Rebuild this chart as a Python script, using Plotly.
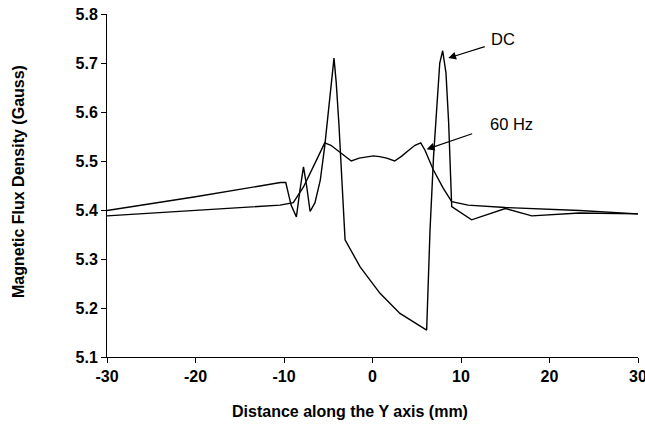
import plotly.graph_objects as go

# DC curve
dc_x = [-30, -20, -10.4, -9.8, -9.2, -8.6, -8.2, -7.8, -7.45, -7.05, -6.5, -5.9, -5.4, -4.9,
        -4.6, -4.35, -4.1, -3.8, -3.1, -1.4, 0.85, 3.1, 6.12, 6.5, 6.9, 7.3, 7.6, 7.93, 8.3,
        8.6, 8.8, 8.95, 11.2, 15, 18, 23.4, 30]
dc_y = [5.399, 5.427, 5.456, 5.456, 5.41, 5.386, 5.44, 5.488, 5.45, 5.397, 5.415, 5.461, 5.53, 5.61,
        5.67, 5.710, 5.66, 5.577, 5.339, 5.284, 5.23, 5.189, 5.155, 5.359, 5.51, 5.63, 5.70, 5.725, 5.68,
        5.58, 5.50, 5.407, 5.38, 5.403, 5.388, 5.394, 5.392]

# 60 Hz curve
hz_x = [-30, -20, -10.45, -8.95, -7.8, -6.7, -5.9, -5.4, -4.7, -4.0, -3.2, -2.4, -1.5, -0.7, 0.1,
        0.8, 1.6, 2.5, 3.3, 4.1, 4.8, 5.45, 5.93, 6.87, 8.0, 8.95, 10.8, 15, 23.4, 30]
hz_y = [5.388, 5.399, 5.41, 5.415, 5.447, 5.488, 5.52, 5.537, 5.532, 5.522, 5.51, 5.50, 5.506, 5.509, 5.5105,
        5.509, 5.506, 5.50, 5.51, 5.522, 5.532, 5.537, 5.522, 5.482, 5.444, 5.417, 5.41, 5.405, 5.399, 5.392]

x_ticks = [-30, -20, -10, 0, 10, 20, 30]
y_ticks = [5.1, 5.2, 5.3, 5.4, 5.5, 5.6, 5.7, 5.8]

FONT = "Liberation Sans, Arial, sans-serif"
W, H = 645, 424
ML, MR, MT, MB = 107, 7, 14, 67
PW, PH = W - ML - MR, H - MT - MB


def px_to_paper(px, py):
    return (px - ML) / PW, (H - MB - py) / PH


fig = go.Figure()
fig.add_trace(go.Scatter(x=dc_x, y=dc_y, mode="lines", name="DC",
                         line=dict(color="black", width=1.4)))
fig.add_trace(go.Scatter(x=hz_x, y=hz_y, mode="lines", name="60 Hz",
                         line=dict(color="black", width=1.4)))

fig.update_layout(
    width=W, height=H,
    margin=dict(l=ML, r=MR, t=MT, b=MB),
    paper_bgcolor="white", plot_bgcolor="white",
    showlegend=False,
    font=dict(family=FONT, color="black"),
    xaxis=dict(range=[-30, 30], tickvals=x_ticks, ticktext=[str(v) for v in x_ticks],
               automargin=False, ticklabeloverflow="allow",
               showgrid=False, zeroline=False, showline=True, linecolor="black", linewidth=1,
               ticks="outside", ticklen=5, tickcolor="black",
               tickfont=dict(size=16, weight="bold")),
    yaxis=dict(range=[5.1, 5.8], tickvals=y_ticks, ticktext=[f"{v:.1f}" for v in y_ticks],
               automargin=False, ticklabeloverflow="allow",
               showgrid=False, zeroline=False, showline=True, linecolor="black", linewidth=1,
               ticks="outside", ticklen=5, tickcolor="black",
               tickfont=dict(size=16, weight="bold")),
)

# Axis titles
tx, ty = px_to_paper(350, 411)
fig.add_annotation(xref="paper", yref="paper", x=tx, y=ty, text="Distance along the Y axis (mm)",
                   showarrow=False, font=dict(size=16, weight="bold"), xanchor="center", yanchor="middle")
tx, ty = px_to_paper(18, 182)
fig.add_annotation(xref="paper", yref="paper", x=tx, y=ty, text="Magnetic Flux Density (Gauss)",
                   showarrow=False, textangle=-90, font=dict(size=16, weight="bold"),
                   xanchor="center", yanchor="middle")

# Arrow annotations
fig.add_annotation(x=8.56, y=5.71, ax=38, ay=-12, text="", showarrow=True,
                   arrowhead=2, arrowsize=1.3, arrowwidth=1.2, arrowcolor="black")
fig.add_annotation(x=14.75, y=5.749, text="DC", showarrow=False,
                   font=dict(size=16.5, family=FONT))
fig.add_annotation(x=6.12, y=5.524, ax=47, ay=-16, text="", showarrow=True,
                   arrowhead=2, arrowsize=1.3, arrowwidth=1.2, arrowcolor="black")
fig.add_annotation(x=15.73, y=5.5755, text="60 Hz", showarrow=False,
                   font=dict(size=16.5, family=FONT))

fig.write_html("out.html", config={"displayModeBar": False},
               post_script="document.body.style.margin='0';document.body.style.overflow='hidden';")
